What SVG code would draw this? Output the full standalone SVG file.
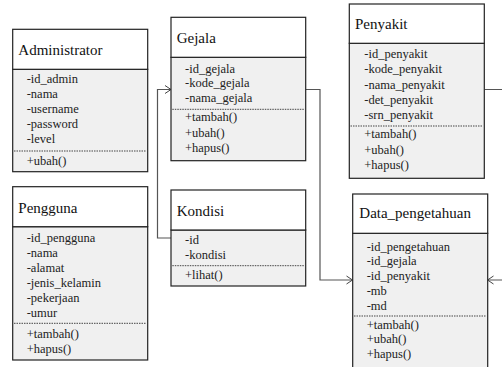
<svg xmlns="http://www.w3.org/2000/svg" width="502" height="367" viewBox="0 0 502 367">
<defs>
<marker id="arr" markerWidth="8" markerHeight="10" refX="7" refY="5" orient="auto" markerUnits="userSpaceOnUse">
<path d="M1,1 L7,5 L1,9" fill="none" stroke="#444" stroke-width="1"/>
</marker>
</defs>
<style>
.hd{fill:#fff;stroke:#222;stroke-width:1.2}
.bd{fill:#f0f0f0;stroke:#222;stroke-width:1.2}
.dot{stroke:#444;stroke-width:1;stroke-dasharray:1.5 1}
.t{font-family:"Liberation Serif","Times New Roman",serif;font-size:15px;fill:#111}
.a{font-family:"Liberation Serif","Times New Roman",serif;font-size:12.5px;fill:#222}
.c{fill:none;stroke:#555;stroke-width:1.2}
</style>
<rect width="502" height="367" fill="#fff"/>
<g id="connectors">
<path class="c" d="M171,238 H157.5 V89.5 H171" marker-end="url(#arr)"/>
<path class="c" d="M305.5,89.5 H320 V280 H352.5" marker-end="url(#arr)"/>
<path class="c" d="M484.5,89.5 H506 V280 H487.5" marker-end="url(#arr)"/>
</g>
<g id="Administrator">
<rect class="bd" x="12.7" y="69.3" width="135" height="102.4"/>
<rect class="hd" x="12.7" y="29.3" width="135" height="40"/>
<text class="t" x="18.3" y="55">Administrator</text>
<text class="a" x="26.7" y="83">-id_admin</text>
<text class="a" x="26.7" y="98">-nama</text>
<text class="a" x="26.7" y="113">-username</text>
<text class="a" x="26.7" y="128">-password</text>
<text class="a" x="26.7" y="143">-level</text>
<line class="dot" x1="14" y1="151" x2="146.5" y2="151"/>
<text class="a" x="26.7" y="165">+ubah()</text>
</g>
<g id="Pengguna">
<rect class="bd" x="12.7" y="226.7" width="135" height="133.3"/>
<rect class="hd" x="12.7" y="186.7" width="135" height="40"/>
<text class="t" x="18.3" y="212.7">Pengguna</text>
<text class="a" x="26.7" y="241.7">-id_pengguna</text>
<text class="a" x="26.7" y="256.7">-nama</text>
<text class="a" x="26.7" y="271.7">-alamat</text>
<text class="a" x="26.7" y="286.7">-jenis_kelamin</text>
<text class="a" x="26.7" y="301.7">-pekerjaan</text>
<text class="a" x="26.7" y="316.7">-umur</text>
<line class="dot" x1="14" y1="323.3" x2="146.5" y2="323.3"/>
<text class="a" x="26.7" y="337.5">+tambah()</text>
<text class="a" x="26.7" y="352.5">+hapus()</text>
</g>
<g id="Gejala">
<rect class="bd" x="171" y="57.3" width="134.7" height="103.4"/>
<rect class="hd" x="171" y="17.3" width="134.7" height="40"/>
<text class="t" x="176.7" y="42.7">Gejala</text>
<text class="a" x="185" y="72.7">-id_gejala</text>
<text class="a" x="185" y="87.3">-kode_gejala</text>
<text class="a" x="185" y="101.7">-nama_gejala</text>
<line class="dot" x1="172.3" y1="109.3" x2="304.5" y2="109.3"/>
<text class="a" x="185" y="121">+tambah()</text>
<text class="a" x="185" y="136.5">+ubah()</text>
<text class="a" x="185" y="151.7">+hapus()</text>
</g>
<g id="Kondisi">
<rect class="bd" x="171" y="230" width="134.7" height="56"/>
<rect class="hd" x="171" y="190" width="134.7" height="40"/>
<text class="t" x="176.7" y="215.7">Kondisi</text>
<text class="a" x="185" y="244">-id</text>
<text class="a" x="185" y="259.3">-kondisi</text>
<line class="dot" x1="172.3" y1="265.7" x2="304.5" y2="265.7"/>
<text class="a" x="185" y="279">+lihat()</text>
</g>
<g id="Penyakit">
<rect class="bd" x="349.3" y="43.3" width="135" height="135"/>
<rect class="hd" x="349.3" y="4" width="135" height="39.3"/>
<text class="t" x="355" y="29.3">Penyakit</text>
<text class="a" x="364.3" y="57.5">-id_penyakit</text>
<text class="a" x="364.3" y="73">-kode_penyakit</text>
<text class="a" x="364.3" y="88.5">-nama_penyakit</text>
<text class="a" x="364.3" y="103.5">-det_penyakit</text>
<text class="a" x="364.3" y="119">-srn_penyakit</text>
<line class="dot" x1="350.5" y1="126" x2="483" y2="126"/>
<text class="a" x="364.3" y="138">+tambah()</text>
<text class="a" x="364.3" y="153.5">+ubah()</text>
<text class="a" x="364.3" y="168.5">+hapus()</text>
</g>
<g id="Data_pengetahuan">
<rect class="bd" x="352.7" y="233.3" width="135" height="140"/>
<rect class="hd" x="352.7" y="194" width="135" height="39.3"/>
<text class="t" x="359.3" y="218.3">Data_pengetahuan</text>
<text class="a" x="366.7" y="250.7">-id_pengetahuan</text>
<text class="a" x="366.7" y="265.3">-id_gejala</text>
<text class="a" x="366.7" y="280">-id_penyakit</text>
<text class="a" x="366.7" y="295">-mb</text>
<text class="a" x="366.7" y="310">-md</text>
<line class="dot" x1="354" y1="316" x2="486.5" y2="316"/>
<text class="a" x="366.7" y="328.5">+tambah()</text>
<text class="a" x="366.7" y="343.3">+ubah()</text>
<text class="a" x="366.7" y="357.5">+hapus()</text>
</g>
</svg>
